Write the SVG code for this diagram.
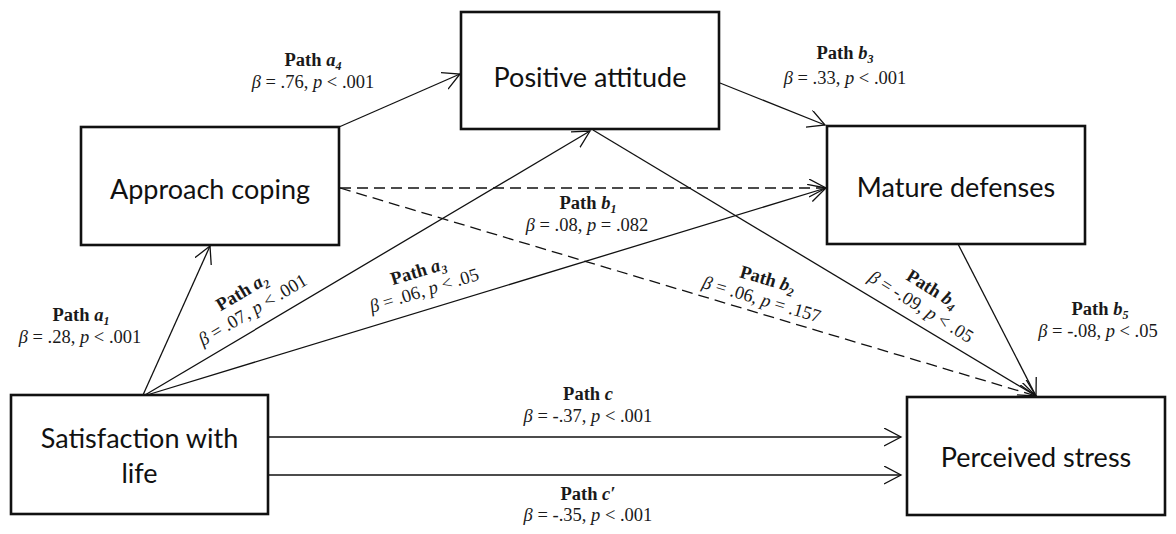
<svg xmlns="http://www.w3.org/2000/svg" width="1176" height="534" viewBox="0 0 1176 534">
<defs>
<style>
.box{fill:#fff;stroke:#111;stroke-width:2.6}
.node{font-family:Lato,"Liberation Sans",sans-serif;font-size:27px;fill:#111;text-anchor:middle}
.ln{fill:none;stroke:#111;stroke-width:1.3}
.dash{stroke-dasharray:11 6}
.lbl{font-family:"Liberation Serif",serif;font-size:18.5px;fill:#1a1a1a;text-anchor:middle}
.b{font-weight:bold}
.i{font-style:italic}
.bi{font-weight:bold;font-style:italic}
.sub{font-weight:bold;font-style:italic;font-size:12px}
</style>
<marker id="ah" markerUnits="userSpaceOnUse" markerWidth="20" markerHeight="20" refX="17" refY="9" orient="auto" viewBox="0 0 20 20">
<path d="M0,0 L17,9 L0,18" fill="none" stroke="#111" stroke-width="1.3" stroke-dasharray="none"/>
</marker>
</defs>
<rect width="1176" height="534" fill="#fff"/>

<g id="connectors">
<line class="ln" x1="143" y1="395" x2="210" y2="246" marker-end="url(#ah)"/>
<line class="ln" x1="145" y1="395" x2="590" y2="131" marker-end="url(#ah)"/>
<line class="ln" x1="147" y1="395" x2="826" y2="188" marker-end="url(#ah)"/>
<line class="ln" x1="339" y1="127" x2="460" y2="74" marker-end="url(#ah)"/>
<line class="ln" x1="720" y1="83" x2="825" y2="125" marker-end="url(#ah)"/>
<line class="ln dash" x1="340" y1="188" x2="826" y2="188" marker-end="url(#ah)"/>
<line class="ln dash" x1="340" y1="188" x2="1036" y2="396" marker-end="url(#ah)"/>
<line class="ln" x1="593" y1="130" x2="1036" y2="396" marker-end="url(#ah)"/>
<line class="ln" x1="958" y1="244" x2="1036" y2="396" marker-end="url(#ah)"/>
<line class="ln" x1="268" y1="437" x2="901" y2="437" marker-end="url(#ah)"/>
<line class="ln" x1="268" y1="475" x2="901" y2="475" marker-end="url(#ah)"/>
</g>

<g id="node-approach">
<rect class="box" x="81" y="127" width="258" height="118"/>
<text class="node" x="210" y="199">Approach coping</text>
</g>
<g id="node-positive">
<rect class="box" x="461" y="12" width="258" height="117"/>
<text class="node" x="590" y="87">Positive attitude</text>
</g>
<g id="node-mature">
<rect class="box" x="827" y="126" width="258" height="118"/>
<text class="node" x="956" y="197">Mature defenses</text>
</g>
<g id="node-satisfaction">
<rect class="box" x="11" y="395" width="257" height="119"/>
<text class="node" x="139.5" y="448">Satisfaction with</text>
<text class="node" x="139.5" y="483">life</text>
</g>
<g id="node-stress">
<rect class="box" x="907" y="397" width="258" height="118"/>
<text class="node" x="1036" y="467">Perceived stress</text>
</g>

<g id="labels">
<text class="lbl" x="313" y="66"><tspan class="b">Path </tspan><tspan class="bi">a</tspan><tspan class="sub" dy="4">4</tspan></text>
<text class="lbl" x="313" y="88"><tspan class="i">β</tspan> = .76, <tspan class="i">p</tspan> &lt; .001</text>

<text class="lbl" x="845" y="59"><tspan class="b">Path </tspan><tspan class="bi">b</tspan><tspan class="sub" dy="4">3</tspan></text>
<text class="lbl" x="845" y="84"><tspan class="i">β</tspan> = .33, <tspan class="i">p</tspan> &lt; .001</text>

<text class="lbl" x="588" y="209"><tspan class="b">Path </tspan><tspan class="bi">b</tspan><tspan class="sub" dy="4">1</tspan></text>
<text class="lbl" x="587" y="231"><tspan class="i">β</tspan> = .08, <tspan class="i">p</tspan> = .082</text>

<text class="lbl" x="81" y="321"><tspan class="b">Path </tspan><tspan class="bi">a</tspan><tspan class="sub" dy="4">1</tspan></text>
<text class="lbl" x="80" y="343"><tspan class="i">β</tspan> = .28, <tspan class="i">p</tspan> &lt; .001</text>

<text class="lbl" x="1100" y="315"><tspan class="b">Path </tspan><tspan class="bi">b</tspan><tspan class="sub" dy="4">5</tspan></text>
<text class="lbl" x="1098" y="337"><tspan class="i">β</tspan> = -.08, <tspan class="i">p</tspan> &lt; .05</text>

<g transform="translate(245,297) rotate(-30.7)">
<text class="lbl" x="0" y="0"><tspan class="b">Path </tspan><tspan class="bi">a</tspan><tspan class="sub" dy="4">2</tspan></text>
<text class="lbl" x="0" y="21"><tspan class="i">β</tspan> = .07, <tspan class="i">p</tspan> &lt; .001</text>
</g>
<g transform="translate(420,277) rotate(-17)">
<text class="lbl" x="0" y="0"><tspan class="b">Path </tspan><tspan class="bi">a</tspan><tspan class="sub" dy="4">3</tspan></text>
<text class="lbl" x="0" y="20"><tspan class="i">β</tspan> = .06, <tspan class="i">p</tspan> &lt; .05</text>
</g>
<g transform="translate(766,285) rotate(16.6)">
<text class="lbl" x="0" y="0"><tspan class="b">Path </tspan><tspan class="bi">b</tspan><tspan class="sub" dy="4">2</tspan></text>
<text class="lbl" x="0" y="21"><tspan class="i">β</tspan> = .06, <tspan class="i">p</tspan> = .157</text>
</g>
<g transform="translate(929,294) rotate(32)">
<text class="lbl" x="0" y="0"><tspan class="b">Path </tspan><tspan class="bi">b</tspan><tspan class="sub" dy="4">4</tspan></text>
<text class="lbl" x="0" y="21"><tspan class="i">β</tspan> = -.09, <tspan class="i">p</tspan> &lt; .05</text>
</g>

<text class="lbl" x="588" y="400"><tspan class="b">Path </tspan><tspan class="bi">c</tspan></text>
<text class="lbl" x="588" y="422"><tspan class="i">β</tspan> = -.37, <tspan class="i">p</tspan> &lt; .001</text>

<text class="lbl" x="588" y="500"><tspan class="b">Path </tspan><tspan class="bi">c′</tspan></text>
<text class="lbl" x="588" y="521"><tspan class="i">β</tspan> = -.35, <tspan class="i">p</tspan> &lt; .001</text>
</g>
</svg>
